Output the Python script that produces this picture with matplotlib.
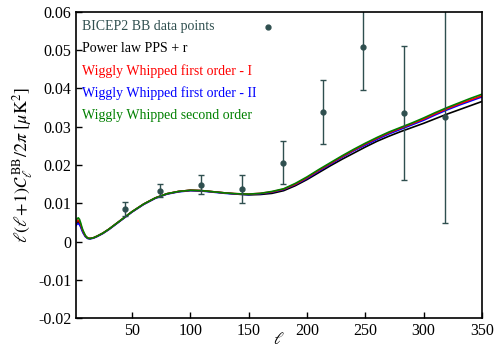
"""
BB power spectrum: BICEP2 bandpowers against power law and wiggly whipped models.
"""

import matplotlib
matplotlib.use("Agg")
import matplotlib.pyplot as plt

plt.rcParams["font.family"] = ["Liberation Serif", "DejaVu Serif"]
plt.rcParams["mathtext.fontset"] = "stix"

# BICEP2 BB bandpowers
ell_data = [44, 74, 109, 144, 179, 214, 248, 283, 318]
cl_data = [0.0086, 0.0133, 0.0149, 0.0138, 0.0206, 0.0338, 0.0508, 0.0336, 0.0326]
cl_err = [0.0018, 0.0017, 0.0025, 0.0036, 0.0056, 0.0084, 0.0113, 0.0174, 0.0278]

# model curves
ell = [2, 3, 4, 5, 6, 7, 8, 10, 12, 14, 17, 20, 25, 30, 40, 50, 60, 70, 80, 90,
       100, 110, 120, 130, 140, 150, 160, 170, 180, 190, 200, 210, 220, 230, 240,
       250, 260, 270, 280, 290, 300, 310, 320, 330, 340, 350]
cl_green = [0.0054, 0.0060, 0.0062, 0.0058, 0.0049, 0.0038, 0.0029, 0.0016, 0.0009,
            0.0008, 0.0010, 0.0014, 0.0022, 0.0032, 0.0055, 0.0078, 0.0098, 0.0114,
            0.0125, 0.0131, 0.0134, 0.0133, 0.0130, 0.0127, 0.0125, 0.0124, 0.0126,
            0.0131, 0.0138, 0.0152, 0.0169, 0.0188, 0.0206, 0.0224, 0.0241, 0.0257,
            0.0272, 0.0286, 0.0298, 0.0310, 0.0323, 0.0337, 0.0350, 0.0362, 0.0374,
            0.0385]
cl_red = [0.0050, 0.0055, 0.0056, 0.0052, 0.0045, 0.0035, 0.0027, 0.0015, 0.0009,
          0.0008, 0.0010, 0.0014, 0.0022, 0.0032, 0.0055, 0.0078, 0.0098, 0.0114,
          0.0125, 0.0131, 0.0134, 0.0133, 0.0130, 0.0127, 0.0125, 0.0124, 0.0126,
          0.0130, 0.0137, 0.0150, 0.0167, 0.0186, 0.0204, 0.0222, 0.0239, 0.0255,
          0.0270, 0.0284, 0.0296, 0.0308, 0.0320, 0.0334, 0.0347, 0.0359, 0.0370,
          0.0381]
cl_blue = [0.0042, 0.0046, 0.0047, 0.0044, 0.0038, 0.0030, 0.0023, 0.0013, 0.0008,
           0.0007, 0.0009, 0.0013, 0.0021, 0.0031, 0.0054, 0.0077, 0.0097, 0.0113,
           0.0124, 0.0130, 0.0133, 0.0132, 0.0129, 0.0126, 0.0124, 0.0123, 0.0125,
           0.0129, 0.0136, 0.0149, 0.0165, 0.0184, 0.0202, 0.0220, 0.0237, 0.0252,
           0.0267, 0.0281, 0.0293, 0.0305, 0.0317, 0.0331, 0.0344, 0.0356, 0.0367,
           0.0378]
cl_black = [0.0047, 0.0051, 0.0052, 0.0049, 0.0042, 0.0033, 0.0025, 0.0014, 0.0009,
            0.0008, 0.0010, 0.0014, 0.0022, 0.0032, 0.0055, 0.0078, 0.0098, 0.0114,
            0.0125, 0.0131, 0.0134, 0.0133, 0.0130, 0.0127, 0.0124, 0.0122, 0.0123,
            0.0126, 0.0133, 0.0146, 0.0162, 0.0180, 0.0198, 0.0215, 0.0231, 0.0247,
            0.0262, 0.0275, 0.0287, 0.0298, 0.0309, 0.0321, 0.0333, 0.0344, 0.0355,
            0.0366]

labels = ["BICEP2 BB data points", "Power law PPS + r",
          "Wiggly Whipped first order - I", "Wiggly Whipped first order - II",
          "Wiggly Whipped second order"]
label_colors = ["darkslategray", "black", "red", "blue", "green"]

fig = plt.figure(figsize=(5, 3.5), dpi=100)
ax = fig.add_axes([0.152, 0.091, 0.812, 0.875])

ax.plot(ell, cl_black, color="black", lw=1.2)
ax.plot(ell, cl_blue, color="blue", lw=1.2)
ax.plot(ell, cl_red, color="red", lw=1.2)
ax.plot(ell, cl_green, color="green", lw=1.2)
ax.errorbar(ell_data, cl_data, yerr=cl_err, fmt="o", ms=3.5, color="darkslategray",
            ecolor="darkslategray", elinewidth=1.0, capsize=2.5, capthick=1.0)

# gnuplot style key: coloured text, one point sample
y_key = [0.951, 0.879, 0.807, 0.735, 0.663]
for lab, col, yk in zip(labels, label_colors, y_key):
    ax.text(0.015, yk, lab, color=col, fontsize=10, transform=ax.transAxes,
            ha="left", va="center")
ax.plot([0.473], [0.951], "o", ms=3.5, color="darkslategray", transform=ax.transAxes)

ax.set_xlim(2, 350)
ax.set_ylim(-0.02, 0.06)
ax.set_xticks([50, 100, 150, 200, 250, 300, 350])
ax.set_yticks([-0.02, -0.01, 0, 0.01, 0.02, 0.03, 0.04, 0.05, 0.06])
ax.set_yticklabels(["-0.02", "-0.01", "0", "0.01", "0.02", "0.03", "0.04", "0.05", "0.06"])
ax.tick_params(direction="in", length=4, width=1, labelsize=11.5, top=False, right=False)
for s in ax.spines.values():
    s.set_linewidth(1.2)

ax.set_xlabel(r"$\ell$", fontsize=12, labelpad=-5)
ax.set_ylabel(r"$\ell(\ell\!+\!1)\mathcal{C}_\ell^{\ \rm BB}/2\pi\ [\mu{\rm K}^2]$",
              fontsize=13, labelpad=2)

plt.savefig("out.png", dpi=100)
